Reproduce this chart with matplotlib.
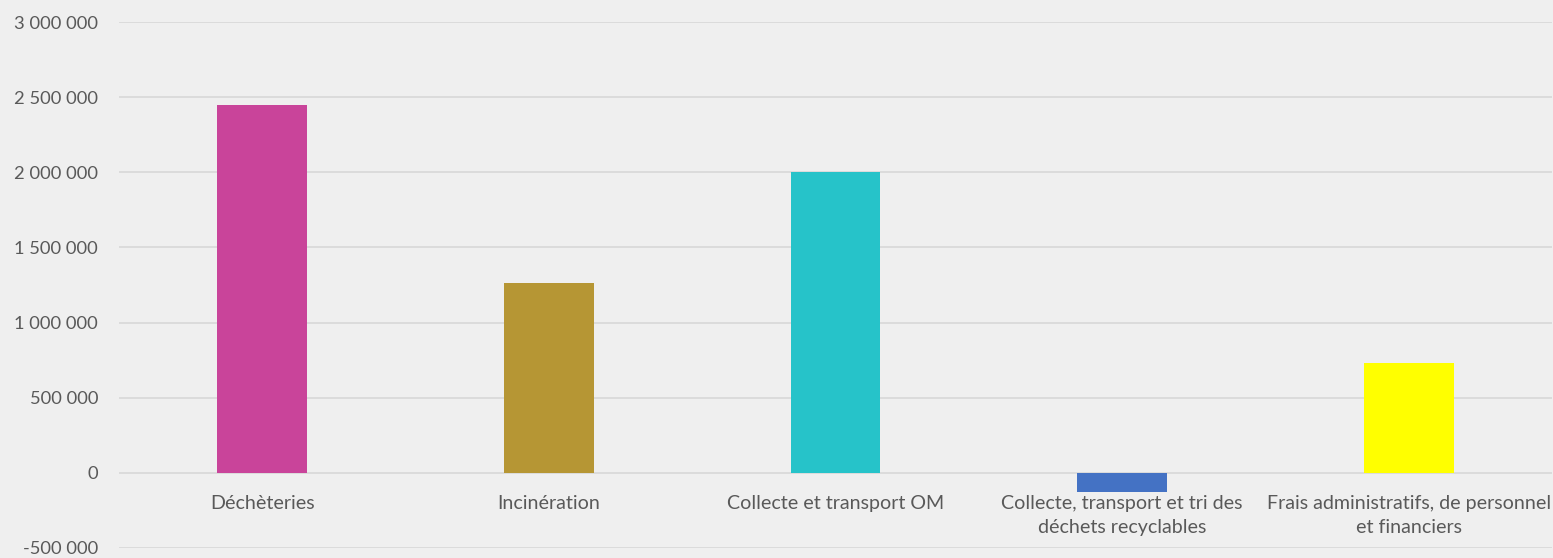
import matplotlib
matplotlib.use("Agg")
import matplotlib.pyplot as plt

categories = ["Déchèteries", "Incinération", "Collecte et transport OM",
              "Collecte, transport et tri des\ndéchets recyclables",
              "Frais administratifs, de personnel\net financiers"]
values = [2445000, 1265000, 2005000, -130000, 733000]
colors = ["#c9449a", "#b69634", "#26c3c9", "#4472c4", "#ffff00"]
yticks = [-500000, 0, 500000, 1000000, 1500000, 2000000, 2500000, 3000000]
ytick_labels = ["-500 000", "0", "500 000", "1 000 000", "1 500 000",
                "2 000 000", "2 500 000", "3 000 000"]

plt.rcParams['font.family'] = ['Lato', 'DejaVu Sans']
bg = "#efefef"
text_col = "#595959"

W, H = 1553, 558
fig = plt.figure(figsize=(W / 100, H / 100), dpi=100, facecolor=bg)
ax = fig.add_axes([119 / W, 1 - 548 / H, (1552 - 119) / W, (548 - 22) / H])
ax.set_facecolor(bg)

x = list(range(len(categories)))
ax.bar(x, values, width=0.314, color=colors, zorder=3)

ax.set_xlim(-0.5, len(categories) - 0.5)
ax.set_ylim(-500000, 3000000)
ax.set_yticks(yticks)
ax.set_yticklabels(ytick_labels)
ax.tick_params(axis='y', length=0, pad=15, labelsize=13.2, labelcolor=text_col)
ax.set_xticks([])
ax.yaxis.grid(True, color="#d9d9d9", linewidth=1.3, zorder=0)
for s in ax.spines.values():
    s.set_visible(False)

for xi, lab in zip(x, categories):
    ax.annotate(lab, xy=(xi, 0), xytext=(0, -15.8), textcoords='offset points',
                ha='center', va='top', fontsize=14.1, color=text_col,
                linespacing=1.53, annotation_clip=False)

fig.savefig("out.png", dpi=100, facecolor=bg)
